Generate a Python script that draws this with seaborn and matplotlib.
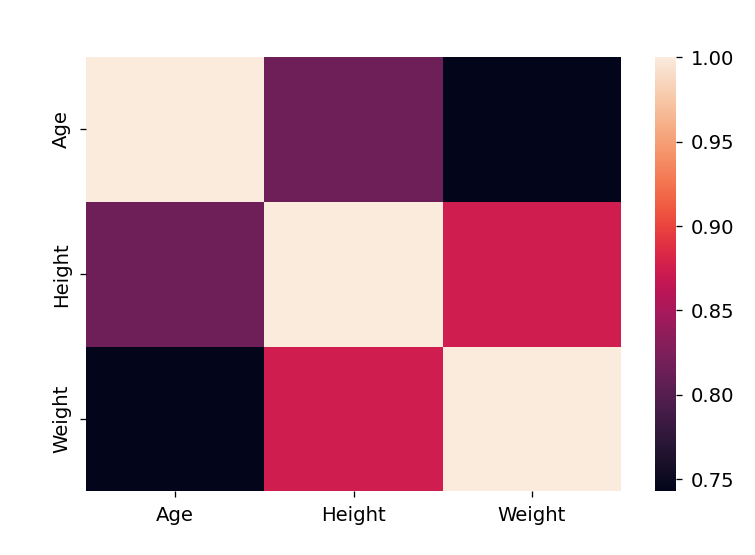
import numpy as np
import pandas as pd
import matplotlib
matplotlib.use("Agg")
import matplotlib.pyplot as plt
import seaborn as sns

# variable names and their pairwise correlations
labels = ["Age", "Height", "Weight"]
age_row = [1.00, 0.816, 0.743]
height_row = [0.816, 1.00, 0.874]
weight_row = [0.743, 0.874, 1.00]

corr = pd.DataFrame([age_row, height_row, weight_row], index=labels, columns=labels)

plt.rcParams["font.size"] = 12
plt.rcParams["xtick.major.pad"] = 5.5
plt.rcParams["ytick.major.pad"] = 5.5

dpi = 118
fig = plt.figure(figsize=(755 / dpi, 555 / dpi), dpi=dpi)
ax = fig.add_subplot(111)
fig.subplots_adjust(left=0.114, right=1.0, top=0.897, bottom=0.115)

sns.heatmap(corr, ax=ax)

fig.savefig("out.png", dpi=dpi)
